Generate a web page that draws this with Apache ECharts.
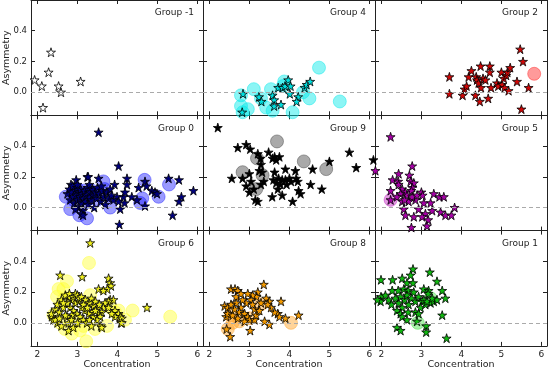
<!DOCTYPE html>
<html>
<head>
<meta charset="utf-8">
<script src="https://cdn.jsdelivr.net/npm/echarts@6/dist/echarts.min.js"></script>
<style>
  html, body { margin: 0; padding: 0; background: #fff; }
  #chart { width: 555px; height: 384px; }
</style>
</head>
<body>
<div id="chart"></div>
<script>
// Concentration vs asymmetry, one panel per group

// --- data (concentration, asymmetry) ---
var gm1Stars = [[1.93,0.08],[2.11,0.04],[2.14,-0.10],[2.28,0.13],[2.34,0.26],[2.53,0.04],[2.59,0.0],[3.08,0.07]];
var gm1Circles = [];

var g4Stars = [[2.84,-0.01],[2.82,-0.13],[3.24,-0.03],[3.3,-0.06],[3.58,-0.02],[3.62,-0.05],[3.62,-0.09],[3.79,-0.08],
  [3.72,0.03],[3.83,0.03],[3.89,0.04],[3.97,0.08],[4.03,0.04],[4.01,-0.01],[4.22,-0.03],[4.18,-0.06],[4.38,0.03],[4.43,0.05],[4.52,0.07]];
var g4Circles = [[2.79,-0.02],[2.79,-0.09],[2.83,-0.13],[2.96,-0.11],[3.11,0.02],[3.29,-0.04],[3.42,-0.10],[3.58,-0.12],
  [3.54,0.02],[3.84,0.04],[3.87,0.07],[4.08,-0.13],[4.34,0.0],[4.5,-0.04],[4.74,0.16],[5.26,-0.06]];

var g2Stars = [[3.7,0.10],[3.7,-0.01],[4.03,-0.02],[4.08,0.02],[4.13,0.04],[4.18,0.10],[4.25,0.14],[4.35,-0.02],[4.37,0.10],
  [4.39,0.08],[4.43,0.06],[4.48,0.17],[4.49,0.03],[4.54,0.09],[4.6,0.08],[4.46,-0.06],[4.67,-0.04],[4.71,0.17],[4.71,0.13],
  [4.74,0.03],[4.89,0.06],[4.92,0.04],[5.0,0.13],[5.02,0.05],[5.06,0.09],[5.08,0.03],[5.12,0.11],[5.15,0.13],[5.18,0.01],
  [5.22,0.16],[5.39,0.07],[5.47,0.28],[5.54,0.20],[5.5,-0.11],[5.68,0.03]];
var g2Circles = [[5.82,0.12]];

var g0Stars = [[3.53,0.49],[4.03,0.27],[4.05,-0.11],[4.07,-0.01],[2.84,0.15],[2.97,0.18],[3.25,0.2],[3.27,0.2],[3.53,0.19],
  [3.93,0.15],[4.24,0.19],[4.24,0.15],[4.53,0.13],[4.69,0.17],[4.73,0.14],[4.86,0.11],[4.94,0.10],[4.99,0.09],[4.69,0.01],
  [5.28,0.19],[5.54,0.18],[5.9,0.11],[5.6,0.07],[5.54,0.04],[5.38,-0.05],[4.18,0.03],[4.15,0.07],[4.19,0.10],[4.36,0.07],
  [4.49,0.05],[3.99,0.07],[4.03,0.04],[3.9,0.05],
  [2.75,0.09],[2.8,0.12],[2.82,0.05],[2.86,0.1],[2.88,0.14],[2.9,0.07],[2.92,0.03],[2.95,0.11],[2.97,0.08],[2.99,0.13],
  [3.0,0.05],[3.02,0.0],[3.04,0.1],[3.06,0.07],[3.08,0.12],[3.1,0.03],[3.12,0.09],[3.14,-0.02],[3.15,0.06],[3.18,0.11],
  [3.2,0.04],[3.22,0.08],[3.25,0.13],[3.27,0.02],[3.3,0.07],[3.32,0.1],[3.35,0.05],[3.38,0.12],[3.4,0.08],[3.42,0.0],
  [3.45,0.1],[3.48,0.06],[3.5,0.13],[3.55,0.09],[3.58,0.04],[3.62,0.11],[3.66,0.07],[3.7,0.02],[3.74,0.1],[3.78,0.06],
  [3.82,0.12],[3.85,0.08],[3.1,-0.04],[2.95,-0.01],[3.14,-0.05],[3.0,0.15],[3.3,0.15],[3.6,0.14]];
var g0Circles = [[2.71,0.07],[2.82,-0.01],[2.94,0.09],[3.05,-0.05],[3.15,0.11],[3.19,0.03],[3.24,-0.07],[3.36,0.11],
  [3.49,0.05],[3.65,0.17],[3.68,0.12],[3.82,0.0],[4.57,0.03],[4.68,0.18],[4.62,0.06],[5.03,0.07],[5.29,0.15],
  [2.9,0.05],[3.0,0.12],[3.1,0.08],[3.3,0.06]];

var g9Stars = [[2.21,0.52],[2.71,0.39],[2.92,0.41],[3.02,0.38],[3.21,0.35],[3.28,0.32],[3.48,0.36],[3.58,0.32],[3.67,0.31],
  [3.75,0.33],[3.63,0.33],[3.29,0.28],[3.25,0.24],[3.32,0.23],[2.56,0.19],[2.83,0.19],[3.0,0.22],[3.04,0.17],[2.92,0.14],
  [3.0,0.10],[3.11,0.12],[3.15,0.05],[3.21,0.04],[3.29,0.15],[3.36,0.17],[3.63,0.23],[3.6,0.18],[3.67,0.16],[3.73,0.19],
  [3.78,0.15],[3.71,0.12],[3.82,0.18],[3.9,0.25],[3.9,0.18],[3.93,0.15],[4.0,0.19],[4.04,0.17],[4.15,0.24],[4.17,0.19],
  [4.21,0.17],[4.23,0.11],[4.28,0.09],[4.08,0.04],[3.82,0.08],[3.57,0.07],[4.53,0.15],[4.58,0.25],[4.81,0.12],[5.0,0.30],
  [5.5,0.36],[5.67,0.26],[6.1,0.31]];
var g9Circles = [[3.69,0.43],[3.19,0.32],[4.36,0.30],[4.92,0.25],[2.83,0.23],[3.33,0.21],[3.17,0.12]];

var g5Stars = [[2.23,0.46],[2.77,0.27],[2.43,0.22],[2.7,0.21],[2.28,0.18],[2.42,0.17],[2.43,0.15],[2.73,0.17],[2.81,0.16],
  [2.77,0.13],[2.75,0.11],[2.23,0.11],[2.52,0.12],[2.6,0.10],[2.48,0.09],[2.64,0.08],[2.39,0.07],[2.23,0.05],[3.0,0.10],
  [3.03,0.08],[3.31,0.09],[3.45,0.07],[3.56,0.07],[3.23,0.03],[3.06,0.03],[2.85,0.05],[2.77,0.07],[2.68,0.04],[2.52,0.04],
  [2.56,-0.01],[2.93,-0.01],[3.1,-0.04],[3.02,-0.06],[3.17,-0.08],[3.27,-0.02],[3.48,-0.03],[3.6,-0.05],[3.75,-0.05],
  [3.83,0.0],[2.6,-0.05],[2.81,-0.06],[2.75,-0.13],[3.14,-0.12],[2.58,0.05],[2.89,0.08],[1.85,0.24]];
var g5Circles = [[2.23,0.05]];

var g6Stars = [[3.32,0.52],[2.57,0.31],[3.12,0.30],[3.78,0.29],[3.82,0.26],[3.84,0.24],[3.75,0.22],[3.53,0.22],[3.65,0.21],
  [4.74,0.10],[4.09,0.0],[3.59,-0.02],[2.78,-0.05],[2.36,0.04],[2.4,0.02],[3.82,0.15],[3.9,0.15],
  [3.78,0.14],[3.69,0.13],[3.65,0.10],[3.78,0.10],[3.94,0.08],[4.03,0.06],[4.07,0.04],[4.11,0.03],[3.94,0.04],[3.86,0.06],
  [3.61,0.07],[3.53,0.06],[3.57,0.04],[3.49,0.02],[3.4,0.04],[3.36,0.07],[3.28,0.06],[3.19,0.08],[3.11,0.10],[3.03,0.14],
  [2.94,0.13],[2.86,0.15],[2.78,0.17],[2.82,0.10],[2.9,0.08],[2.99,0.06],[3.07,0.04],[3.15,0.02],[3.24,0.0],[2.86,0.05],
  [2.74,0.04],[2.78,0.0],[4.11,0.0],[3.61,-0.03],
  [2.35,0.06],[2.45,0.09],[2.5,0.12],[2.55,0.07],[2.6,0.15],[2.65,0.10],[2.7,0.18],[2.7,0.05],[2.75,0.13],[2.8,0.19],
  [2.85,0.02],[2.9,0.17],[2.95,0.19],[3.0,0.18],[3.05,0.16],[3.1,0.17],[3.2,0.15],[3.3,0.13],[3.35,0.16],[3.4,0.11],
  [3.45,0.14],[3.5,0.09],[3.55,0.12],[2.5,0.0],[2.6,-0.02],[2.9,-0.03],[3.0,0.0],[3.3,0.02],[3.35,-0.02],[2.45,0.02],
  [2.55,0.03],[2.65,0.13],[3.15,0.12],[3.25,0.1],[3.45,0.08]];
var g6Circles = [[3.29,0.39],[5.32,0.04],[4.38,0.08],[4.19,0.02],[4.03,0.08],[3.22,-0.12],[2.74,0.27],[2.65,0.22],
  [2.53,0.22],[2.49,0.17],[2.65,0.15],[3.32,0.18],[3.74,-0.02],[3.44,-0.04],[3.07,-0.05],[2.86,-0.07],[2.69,-0.04],
  [2.57,0.0],[3.15,-0.02],[2.94,0.01],[3.82,0.10],[3.94,0.07],[2.4,0.05]];

var g8Stars = [[3.36,0.25],[2.54,0.22],[2.64,0.22],[2.71,0.21],[2.38,0.11],[2.46,0.10],[2.42,0.04],[2.46,0.06],[2.52,-0.09],
  [2.43,-0.04],[3.02,-0.05],[4.23,0.05],[3.79,0.14],[3.5,-0.01],[3.38,0.01],[3.9,0.03],[3.71,0.06],[3.75,0.04],[3.63,0.07],
  [3.42,0.16],[3.5,0.14],[3.54,0.10],[3.46,0.12],[3.29,0.13],[3.21,0.20],[3.18,0.17],[3.08,0.18],[3.04,0.15],[2.92,0.13],
  [2.83,0.15],[2.79,0.10],[2.67,0.13],[2.75,0.07],[2.88,0.06],[2.96,0.04],[3.0,0.02],[3.13,0.02],[3.17,0.05],[3.13,0.09],
  [2.88,0.01],[2.71,0.03],[2.58,0.05],[2.63,0.09],[2.67,0.17],[2.54,0.12],[2.79,0.19],[2.96,0.19],[3.08,0.12],[3.25,0.08]];
var g8Circles = [[4.04,0.0],[2.46,-0.04],[2.58,0.0],[2.75,0.01],[3.0,0.03],[3.29,0.12],[2.54,0.05]];

var g1Stars = [[2.79,0.35],[3.21,0.33],[1.99,0.28],[2.28,0.28],[2.52,0.29],[2.73,0.31],[2.64,0.26],[2.79,0.26],[3.39,0.27],
  [2.27,0.21],[2.42,0.21],[2.56,0.22],[2.67,0.21],[2.81,0.20],[3.06,0.22],[3.18,0.21],[3.17,0.19],[3.52,0.21],[3.6,0.16],
  [1.99,0.17],[1.98,0.14],[2.1,0.18],[2.18,0.15],[2.25,0.12],[2.35,0.16],[2.43,0.13],[2.48,0.17],[2.52,0.10],[2.58,0.15],
  [2.64,0.18],[2.68,0.12],[2.75,0.16],[2.85,0.14],[2.93,0.17],[3.02,0.14],[2.98,0.10],[3.1,0.12],[3.23,0.13],[3.31,0.14],
  [3.39,0.15],[3.06,0.15],[3.14,0.14],[3.27,0.16],[2.39,0.08],[2.48,0.06],[2.52,0.04],[2.67,0.07],[2.85,0.07],[2.93,0.06],
  [2.64,0.02],[2.89,0.01],[3.52,0.05],[2.39,-0.03],[2.48,-0.05],[3.12,-0.02],[3.12,-0.06],[3.63,-0.10],[1.9,0.15]];
var g1Circles = [[2.91,0.0],[3.23,0.16]];

var groupNames = ['Group -1', 'Group 4', 'Group 2', 'Group 0', 'Group 9', 'Group 5', 'Group 6', 'Group 8', 'Group 1'];
var starData = [gm1Stars, g4Stars, g2Stars, g0Stars, g9Stars, g5Stars, g6Stars, g8Stars, g1Stars];
var circleData = [gm1Circles, g4Circles, g2Circles, g0Circles, g9Circles, g5Circles, g6Circles, g8Circles, g1Circles];
var starColors = ['#ffffff', '#00dede', '#d00808', '#00007e', '#000000', '#a800a8', '#f0f020', '#f49a00', '#10b810'];
var circleColors = ['#ffffff', '#00e8e8', '#ff2020', '#2020ff', '#404040', '#c020c0', '#ffff30', '#ffa020', '#40e040'];

var xTicks = [2, 3, 4, 5, 6];
var yTicks = [0, 0.2, 0.4, 0.6];
var yLabels = [0, 0.2, 0.4];

// --- layout ---
var colLeft = [31, 203, 375], rowTop = [0, 115.3, 230.6];
var W = 172, H = 115.3;
var FONT = 'DejaVu Sans';
var STAR = 'path://M0,-100L22.45,-30.9L95.1,-30.9L36.3,11.8L58.8,80.9L0,38.2L-58.8,80.9L-36.3,11.8L-95.1,-30.9L-22.45,-30.9Z';

var grids = [], xAxes = [], yAxes = [], series = [], texts = [];

for (var p = 0; p < 9; p++) {
  var r = Math.floor(p / 3), c = p % 3;
  grids.push({left: colLeft[c], top: rowTop[r], width: W, height: H, containLabel: false, outerBoundsMode: 'none'});

  ['bottom', 'top'].forEach(function (pos) {
    var lab = pos == 'bottom' && r == 2;
    xAxes.push({
      type: 'value', gridIndex: p, position: pos, min: 1.84, max: 6.14,
      axisLine: {onZero: false, lineStyle: {color: '#222', width: 1}},
      axisTick: {inside: true, length: 4, lineStyle: {color: '#222'}, customValues: xTicks},
      axisLabel: {show: lab, customValues: xTicks, margin: 4, fontSize: 9, color: '#222', fontFamily: FONT},
      splitLine: {show: false},
      name: lab ? 'Concentration' : '', nameLocation: 'middle', nameGap: 14, nameMoveOverlap: false,
      nameTextStyle: {fontSize: 9.5, color: '#222', fontFamily: FONT}
    });
  });
  ['left', 'right'].forEach(function (pos) {
    var lab = pos == 'left' && c == 0;
    yAxes.push({
      type: 'value', gridIndex: p, position: pos, min: -0.15, max: 0.6,
      axisLine: {onZero: false, lineStyle: {color: '#222', width: 1}},
      axisTick: {inside: true, length: 4, lineStyle: {color: '#222'}, customValues: yTicks},
      axisLabel: {show: lab, customValues: yLabels, margin: 4, fontSize: 8.5, color: '#222', fontFamily: FONT,
        formatter: function (v) { return v.toFixed(1); }},
      splitLine: {show: false},
      name: lab ? 'Asymmetry' : '', nameLocation: 'middle', nameGap: 19, nameRotate: 90, nameMoveOverlap: false,
      nameTextStyle: {fontSize: 9.5, color: '#222', fontFamily: FONT}
    });
  });

  var zeroLine = {
    silent: true, symbol: 'none', label: {show: false},
    lineStyle: {color: '#aaa', type: [4, 3], width: 1},
    data: [{yAxis: 0}]
  };

  if (circleData[p].length) {
    series.push({
      type: 'scatter', xAxisIndex: 2 * p, yAxisIndex: 2 * p, z: 2,
      symbol: 'circle', symbolSize: 13, data: circleData[p],
      itemStyle: {color: circleColors[p], opacity: 0.45, borderColor: circleColors[p], borderWidth: 1},
      markLine: zeroLine
    });
  }
  series.push({
    type: 'scatter', xAxisIndex: 2 * p, yAxisIndex: 2 * p, z: 3,
    symbol: STAR, symbolSize: 9, data: starData[p],
    itemStyle: {color: starColors[p], opacity: 1, borderColor: '#000', borderWidth: 0.8},
    markLine: circleData[p].length ? undefined : zeroLine
  });

  texts.push({
    type: 'text', z: 10,
    style: {text: groupNames[p], x: colLeft[c] + W - 9, y: rowTop[r] + 13, align: 'right', verticalAlign: 'middle',
      font: '9px "DejaVu Sans"', fill: '#222'}
  });
}

var myChart = echarts.init(document.getElementById('chart'));
myChart.setOption({
  animation: false,
  grid: grids,
  xAxis: xAxes,
  yAxis: yAxes,
  series: series,
  graphic: texts
});
</script>
</body>
</html>
